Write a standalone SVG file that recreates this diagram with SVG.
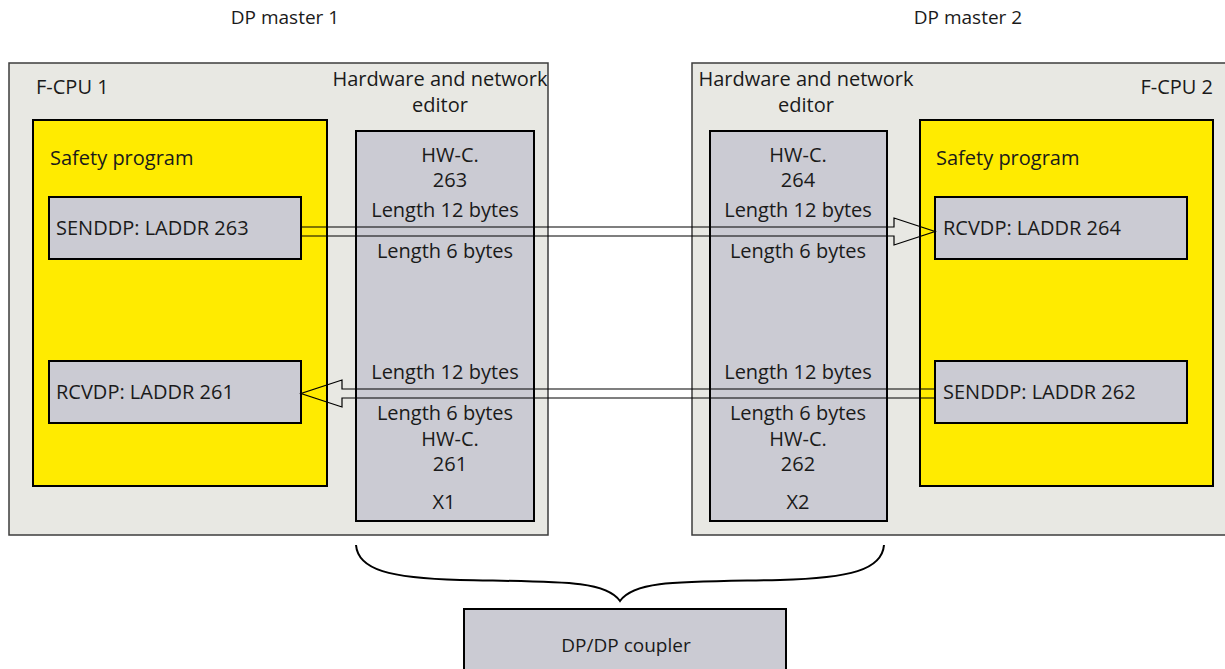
<svg xmlns="http://www.w3.org/2000/svg" width="1225" height="669" viewBox="0 0 1225 669">
<style>
text{font-family:"Open Sans","Noto Sans","Liberation Sans",sans-serif;fill:#1a1a1a;font-size:20px}
.c{text-anchor:middle}
.s{font-size:19px}
.outer{fill:#e8e8e3;stroke:#3c3c3c;stroke-width:1.5}
.yel{fill:#ffeb00;stroke:#000;stroke-width:2}
.gr{fill:#cbcbd3;stroke:#000;stroke-width:2}
.arr{fill:none;stroke:#000;stroke-width:1.2}
</style>
<rect width="1225" height="669" fill="#fff"/>
<text class="s c" x="285" y="24">DP master 1</text>
<text class="s c" x="968" y="24">DP master 2</text>
<g id="fcpu1">
<rect class="outer" x="9" y="63" width="539" height="472"/>
<text x="36" y="94">F-CPU 1</text>
<text class="c" x="440" y="86">Hardware and network</text>
<text class="c" x="440" y="112">editor</text>
</g>
<g id="safety1">
<rect class="yel" x="33" y="120" width="294" height="366"/>
<text x="50" y="165">Safety program</text>
</g>
<g id="hw1">
<rect class="gr" x="356" y="131" width="178" height="390"/>
<text class="c" x="450" y="162">HW-C.</text>
<text class="c" x="450" y="187">263</text>
<text class="c" x="445" y="217">Length 12 bytes</text>
<text class="c" x="445" y="258">Length 6 bytes</text>
<text class="c" x="445" y="379">Length 12 bytes</text>
<text class="c" x="445" y="420">Length 6 bytes</text>
<text class="c" x="450" y="446">HW-C.</text>
<text class="c" x="450" y="471">261</text>
<text class="c" x="444" y="509">X1</text>
</g>
<g id="senddp263">
<rect class="gr" x="49" y="197" width="252" height="62"/>
<text x="56" y="235">SENDDP: LADDR 263</text>
</g>
<g id="rcvdp261">
<rect class="gr" x="49" y="361" width="252" height="62"/>
<text x="56" y="399">RCVDP: LADDR 261</text>
</g>
<g id="fcpu2">
<rect class="outer" x="692" y="63" width="540" height="472"/>
<text x="1213" y="94" text-anchor="end">F-CPU 2</text>
<text class="c" x="806" y="86">Hardware and network</text>
<text class="c" x="806" y="112">editor</text>
</g>
<g id="hw2">
<rect class="gr" x="710" y="131" width="177" height="390"/>
<text class="c" x="798" y="162">HW-C.</text>
<text class="c" x="798" y="187">264</text>
<text class="c" x="798" y="217">Length 12 bytes</text>
<text class="c" x="798" y="258">Length 6 bytes</text>
<text class="c" x="798" y="379">Length 12 bytes</text>
<text class="c" x="798" y="420">Length 6 bytes</text>
<text class="c" x="798" y="446">HW-C.</text>
<text class="c" x="798" y="471">262</text>
<text class="c" x="798" y="509">X2</text>
</g>
<g id="safety2">
<rect class="yel" x="920" y="120" width="293" height="366"/>
<text x="936" y="165">Safety program</text>
</g>
<g id="rcvdp264">
<rect class="gr" x="935" y="197" width="252" height="62"/>
<text x="943" y="235">RCVDP: LADDR 264</text>
</g>
<g id="senddp262">
<rect class="gr" x="935" y="361" width="252" height="62"/>
<text x="943" y="399">SENDDP: LADDR 262</text>
</g>
<g id="coupler">
<rect class="gr" x="464" y="609" width="322" height="70" stroke-width="1.5"/>
<text class="s c" x="626" y="652">DP/DP coupler</text>
</g>
<g id="connectors">
<path class="arr" d="M301,227 H894 V218 L935,231.5 L894,245 V236 H301"/>
<path class="arr" d="M935,389 H342 V380 L301,393.5 L342,407 V398 H935"/>
<path fill="none" stroke="#000" stroke-width="2" d="M356,545 C358,570 390,578 460,580 C560,582 605,580 620,601 C635,580 680,582 780,580 C850,578 882,570 884,545"/>
</g>
</svg>
